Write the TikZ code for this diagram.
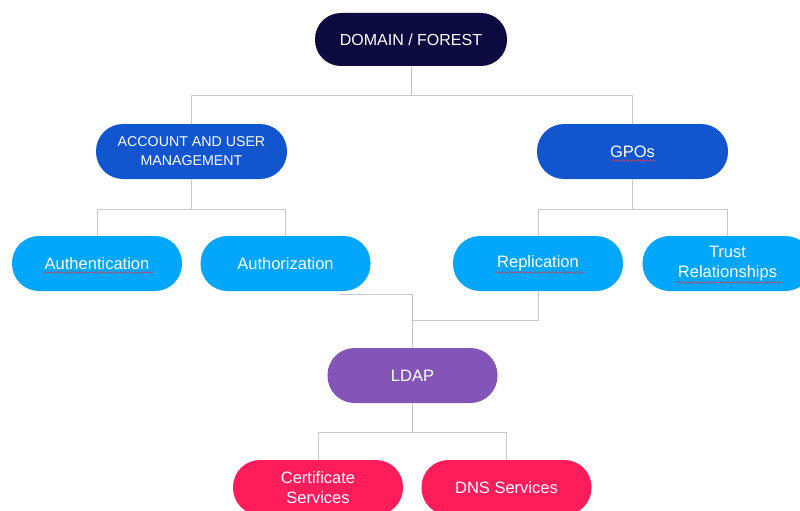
\documentclass[tikz,border=0pt]{standalone}
\usepackage{fontspec}
\setmainfont{Liberation Sans}
\usetikzlibrary{calc,decorations.pathmorphing}
\definecolor{navy}{HTML}{0C0A3E}
\definecolor{midblue}{HTML}{1256CF}
\definecolor{skyblue}{HTML}{02A7FB}
\definecolor{ldappurple}{HTML}{8455B8}
\definecolor{hotpink}{HTML}{FF1C5B}
\definecolor{wire}{HTML}{C8C8C8}
\definecolor{squigred}{HTML}{D83A4A}
\tikzset{
  pill/.style={rectangle, rounded corners=27pt, minimum width=170pt, minimum height=55pt,
    inner sep=0pt, outer sep=0pt, text=white, align=center,
    font=\fontsize{16.5}{20}\selectfont},
  toppill/.style={pill, fill=navy, minimum width=192pt, minimum height=53pt, rounded corners=26pt,
    font=\fontsize{16}{19}\selectfont},
  midpill/.style={pill, fill=midblue, minimum width=191pt, font=\fontsize{14.2}{19}\selectfont},
  leafpill/.style={pill, fill=skyblue},
  ldappill/.style={pill, fill=ldappurple},
  svcpill/.style={pill, fill=hotpink},
  link/.style={draw=wire, line width=1pt},
  squig/.style={draw=squigred, line width=0.6pt, decorate,
    decoration={snake, amplitude=0.8pt, segment length=3.5pt}}
}
\begin{document}
\begin{tikzpicture}[x=1pt,y=-1pt]
\useasboundingbox[fill=white] (0,0) rectangle (800,511);
\node[toppill] (dom) at (411,39.5) {DOMAIN / FOREST};
\node[midpill] (acc) at (191.5,151.5) {ACCOUNT AND USER\\MANAGEMENT};
\node[midpill, font=\fontsize{16.5}{20}\selectfont] (gpo) at (632.5,151.5) {GPOs};
\node[leafpill] (authn) at (97,263.5) {Authentication};
\node[leafpill] (authz) at (285.5,263.5) {Authorization};
\node[leafpill] (repl) at (538,263.5) {Replication};
\node[leafpill] (trust) at (727.5,263.5) {Trust\\Relationships};
\node[ldappill] (ldap) at (412.5,375.5) {LDAP};
\node[svcpill] (cert) at (318,487.5) {Certificate\\Services};
\node[svcpill] (dns) at (506.5,487.5) {DNS Services};
\coordinate (domj) at (411,95);
\coordinate (accj) at (191.5,209);
\coordinate (gpoj) at (632.5,209);
\coordinate (ldapj) at (412.5,432);
\coordinate (azend) at (340,294);
\coordinate (replj) at (412.5,320);
\draw[link] (dom.south) -- (domj);
\draw[link] (domj) -| (acc.north);
\draw[link] (domj) -| (gpo.north);
\draw[link] (acc.south) -- (accj);
\draw[link] (accj) -| (authn.north);
\draw[link] (accj) -| (authz.north);
\draw[link] (gpo.south) -- (gpoj);
\draw[link] (gpoj) -| (repl.north);
\draw[link] (gpoj) -| (trust.north);
\draw[link] (azend) -| (ldap.north);
\draw[link] (repl.south) |- (replj);
\draw[link] (ldap.south) -- (ldapj);
\draw[link] (ldapj) -| (cert.north);
\draw[link] (ldapj) -| (dns.north);
% spell-check squiggles
\draw[squig] ($(authn.center)+(-54,9)$) -- ++(111,0);
\draw[squig] ($(gpo.center)+(-21.5,9)$) -- ++(45,0);
\draw[squig] ($(repl.center)+(-43,9)$) -- ++(88,0);
\draw[squig] ($(trust.center)+(-51.5,19)$) -- ++(105,0);
\end{tikzpicture}
\end{document}
